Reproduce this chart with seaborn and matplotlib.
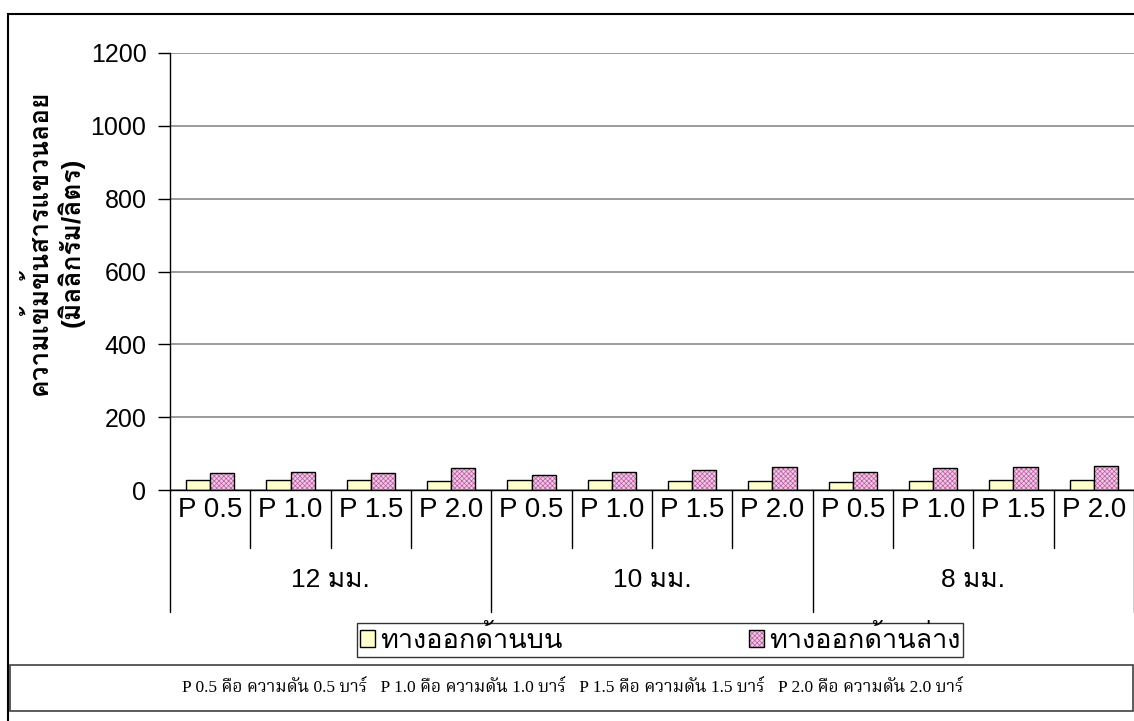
import matplotlib
matplotlib.use("Agg")
import matplotlib.pyplot as plt
from matplotlib.patches import Rectangle, Patch
from matplotlib.colors import to_rgba
import matplotlib.transforms as mtransforms
import pandas as pd
import seaborn as sns

# --- data -------------------------------------------------------------
groups = ["12 มม.", "10 มม.", "8 มม."]
pressures = ["P 0.5", "P 1.0", "P 1.5", "P 2.0"]
series_names = ["ทางออกด้านบน", "ทางออกด้านล่าง"]
top_outlet = [28, 28, 28, 26, 28, 28, 26, 26, 23, 26, 28, 28]
bottom_outlet = [47, 49, 47, 61, 42, 49, 55, 62, 49, 61, 62, 65]
y_ticks = [0, 200, 400, 600, 800, 1000, 1200]
y_label = "ความเข้มข้นสารแขวนลอย\n(มิลลิกรัม/ลิตร)"
note = ("P 0.5 คือ ความดัน 0.5 บาร์   P 1.0 คือ ความดัน 1.0 บาร์   "
        "P 1.5 คือ ความดัน 1.5 บาร์   P 2.0 คือ ความดัน 2.0 บาร์")

cats = [f"{g}|{p}" for g in groups for p in pressures]
df = pd.DataFrame({
    "cat": cats * 2,
    "series": [series_names[0]] * len(cats) + [series_names[1]] * len(cats),
    "value": top_outlet + bottom_outlet,
})

sns.set_theme(style="white")
SANS = ["Liberation Sans", "Loma", "DejaVu Sans"]
SERIF = ["Liberation Serif", "Noto Serif Thai", "DejaVu Serif"]
plt.rcParams["font.family"] = SANS
plt.rcParams["text.color"] = "black"
plt.rcParams["xtick.color"] = "black"
plt.rcParams["ytick.color"] = "black"
plt.rcParams["axes.labelcolor"] = "black"
plt.rcParams["hatch.linewidth"] = 0.5

W, H = 1134, 721
fig = plt.figure(figsize=(W / 100, H / 100), dpi=100)
ax = fig.add_axes([170 / W, 1 - 490 / H, (1134 - 170) / W, (490 - 53) / H])

yellow = "#FFFFCC"
pink = "#EEC8E4"
dots = to_rgba("#BC5AA0")
sns.barplot(data=df, x="cat", y="value", hue="series", order=cats,
            hue_order=series_names, palette=[yellow, pink], width=0.6,
            gap=0, edgecolor="black", linewidth=1.0, saturation=1,
            legend=False, ax=ax)

# fine purple dot pattern on the lower-outlet bars
for p in ax.patches:
    if to_rgba(p.get_facecolor()) == to_rgba(pink):
        p.set_hatch("xxxxxxx")
        p._hatch_color = dots

ax.set_xlim(-0.5, len(cats) - 0.5)
ax.set_ylim(0, 1200)
ax.set_yticks(y_ticks)
ax.set_yticklabels([str(v) for v in y_ticks], fontsize=18)
ax.yaxis.grid(True, color="#808080", linewidth=1.1)
ax.set_axisbelow(True)
ax.tick_params(axis="y", which="major", direction="out", length=9, width=1,
               color="black", left=True, pad=8, labelcolor="black")
for side in ["top", "right"]:
    ax.spines[side].set_visible(False)
for side in ["left", "bottom"]:
    ax.spines[side].set_color("black")
    ax.spines[side].set_linewidth(1)

ax.set_xlabel("")
ax.set_ylabel(y_label, fontsize=19, fontweight="bold", linespacing=1.25,
              color="black")
ax.yaxis.set_label_coords((85 - 170) / 964, (490 - 242) / 437)

# two-level category axis
ax.set_xticks(range(len(cats)))
ax.set_xticklabels(pressures * len(groups), fontsize=20)
ax.tick_params(axis="x", length=0, pad=5, labelcolor="black")
trans = mtransforms.blended_transform_factory(ax.transData, ax.transAxes)
px = 1 / (490 - 53)
for i in range(len(cats) + 1):
    x = i - 0.5
    depth = 122 if i % len(pressures) == 0 else 58
    ax.plot([x, x], [0, -depth * px], transform=trans, color="black",
            linewidth=1, clip_on=False)
for j, g in enumerate(groups):
    xc = j * len(pressures) + (len(pressures) - 1) / 2
    ax.text(xc, -90 * px, g, transform=trans, ha="center", va="center",
            fontsize=19)

# legend
handles = [Patch(facecolor=yellow, edgecolor="black", linewidth=1),
           Patch(facecolor=pink, edgecolor="black", linewidth=1,
                 hatch="xxxxxxx")]
leg = fig.legend(handles, series_names, loc="center", mode="expand",
                 bbox_to_anchor=(357 / W, 1 - 657 / H, 606 / W, 34 / H),
                 ncol=2, fontsize=19.5, frameon=True, fancybox=False,
                 edgecolor="black", handlelength=0.55, handleheight=0.55,
                 handletextpad=0.2, borderpad=0.1, borderaxespad=0)
leg.get_frame().set_linewidth(1)
leg.legend_handles[1]._hatch_color = dots

# note box
fig.patches.append(Rectangle((10 / W, 1 - 711 / H), (1133 - 10) / W,
                             (711 - 665) / H, transform=fig.transFigure,
                             facecolor="white", edgecolor="#404040",
                             linewidth=1.2))
fig.text(573 / W, 1 - 688 / H, note, ha="center", va="center", fontsize=12.5,
         family=SERIF)

# outer chart frame
fig.patches.append(Rectangle((8 / W, 1 - 740 / H), 1200 / W, (740 - 14) / H,
                             transform=fig.transFigure, facecolor="none",
                             edgecolor="black", linewidth=1.5))

fig.savefig("out.png", dpi=100)
